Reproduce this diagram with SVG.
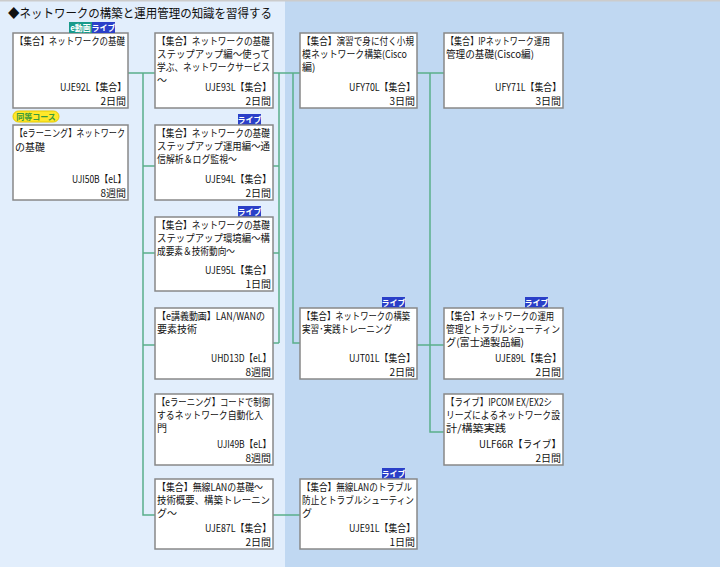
<svg xmlns="http://www.w3.org/2000/svg" width="720" height="567" viewBox="0 0 720 567">
<style>
text{font-family:"Noto Sans CJK JP","Liberation Sans",sans-serif;font-size:10px;fill:#111}
.b{fill:#fff;stroke:#888;stroke-width:1.5}
.r{text-anchor:end}
.c{fill:none;stroke:#5aaf8a;stroke-width:1.5}
.lv{fill:#2a3fc8}
.bt{fill:#fff;font-size:8px;text-anchor:middle;font-weight:bold}
</style>
<rect x="0" y="0" width="720" height="567" fill="#c0d8f2"/>
<rect x="0" y="0" width="285" height="567" fill="#e2eefc"/>
<rect x="0" y="0" width="720" height="1.5" fill="#ccc"/>
<text x="8" y="18" style="font-size:12.5px" textLength="264" lengthAdjust="spacingAndGlyphs">◆ネットワークの構築と運用管理の知識を習得する</text>
<g id="connectors" class="c">
<path d="M128 73H155M143 73V515H155M143 166H155M143 253H155M143 345H155"/>
<path d="M273 73H300M279 73V343M273 166H279M273 253H279M273 343H279M293 73V343H300"/>
<path d="M417 73H444M430 73V432H444M417 345H444"/>
<path d="M273 515H300"/>
</g>
<g id="UJE92L"><rect class="b" x="13" y="33" width="115" height="75"/>
<rect x="69" y="22" width="23" height="11" fill="#1a9a8a"/><text class="bt" x="80.5" y="30.5">e動画</text>
<rect class="lv" x="92" y="22" width="23" height="11"/><text class="bt" x="103.5" y="30.5">ライブ</text>
<text x="15" y="45" textLength="110" lengthAdjust="spacingAndGlyphs">【集合】ネットワークの基礎</text><text class="r" x="126" y="91" textLength="66" lengthAdjust="spacingAndGlyphs">UJE92L【集合】</text><text class="r" x="126" y="105">2日間</text></g>
<g id="UJI50B"><rect x="13" y="111" width="46" height="11" rx="5.5" fill="#ffe82a" stroke="#e6c800"/><text x="36" y="119.5" style="font-size:8px;fill:#3a9a3a;text-anchor:middle;font-weight:bold">同等コース</text>
<rect class="b" x="13" y="125" width="115" height="75"/>
<text x="15" y="137" textLength="110" lengthAdjust="spacingAndGlyphs">【eラーニング】ネットワーク</text><text x="15" y="151">の基礎</text><text class="r" x="126" y="183" textLength="54" lengthAdjust="spacingAndGlyphs">UJI50B【eL】</text><text class="r" x="126" y="197">8週間</text></g>
<g id="UJE93L"><rect class="b" x="155" y="33" width="118" height="75"/>
<text x="157" y="45" textLength="113" lengthAdjust="spacingAndGlyphs">【集合】ネットワークの基礎</text><text x="157" y="58" textLength="113" lengthAdjust="spacingAndGlyphs">ステップアップ編～使って</text><text x="157" y="71" textLength="113" lengthAdjust="spacingAndGlyphs">学ぶ、ネットワークサービス</text><text x="157" y="84">～</text><text class="r" x="271" y="91" textLength="66" lengthAdjust="spacingAndGlyphs">UJE93L【集合】</text><text class="r" x="271" y="105">2日間</text></g>
<g id="UJE94L"><rect class="lv" x="238" y="114" width="23" height="11"/><text class="bt" x="249.5" y="122.5">ライブ</text>
<rect class="b" x="155" y="125" width="118" height="75"/>
<text x="157" y="137" textLength="113" lengthAdjust="spacingAndGlyphs">【集合】ネットワークの基礎</text><text x="157" y="150" textLength="113" lengthAdjust="spacingAndGlyphs">ステップアップ運用編～通</text><text x="157" y="163" textLength="80" lengthAdjust="spacingAndGlyphs">信解析＆ログ監視～</text><text class="r" x="271" y="183" textLength="66" lengthAdjust="spacingAndGlyphs">UJE94L【集合】</text><text class="r" x="271" y="197">2日間</text></g>
<g id="UJE95L"><rect class="lv" x="238" y="206" width="23" height="11"/><text class="bt" x="249.5" y="214.5">ライブ</text>
<rect class="b" x="155" y="217" width="118" height="74"/>
<text x="157" y="229" textLength="113" lengthAdjust="spacingAndGlyphs">【集合】ネットワークの基礎</text><text x="157" y="242" textLength="113" lengthAdjust="spacingAndGlyphs">ステップアップ環境編～構</text><text x="157" y="255" textLength="78" lengthAdjust="spacingAndGlyphs">成要素＆技術動向～</text><text class="r" x="271" y="274" textLength="66" lengthAdjust="spacingAndGlyphs">UJE95L【集合】</text><text class="r" x="271" y="288">1日間</text></g>
<g id="UHD13D"><rect class="b" x="155" y="308" width="118" height="71"/>
<text x="157" y="320" textLength="108" lengthAdjust="spacingAndGlyphs">【e講義動画】LAN/WANの</text><text x="157" y="333">要素技術</text><text class="r" x="271" y="362" textLength="60" lengthAdjust="spacingAndGlyphs">UHD13D【eL】</text><text class="r" x="271" y="376">8週間</text></g>
<g id="UJI49B"><rect class="b" x="155" y="394" width="118" height="71"/>
<text x="157" y="406" textLength="113" lengthAdjust="spacingAndGlyphs">【eラーニング】コードで制御</text><text x="157" y="419" textLength="106" lengthAdjust="spacingAndGlyphs">するネットワーク自動化入</text><text x="157" y="432">門</text><text class="r" x="271" y="448" textLength="54" lengthAdjust="spacingAndGlyphs">UJI49B【eL】</text><text class="r" x="271" y="462">8週間</text></g>
<g id="UJE87L"><rect class="b" x="155" y="479" width="118" height="70"/>
<text x="157" y="491" textLength="106" lengthAdjust="spacingAndGlyphs">【集合】無線LANの基礎～</text><text x="157" y="504" textLength="113" lengthAdjust="spacingAndGlyphs">技術概要、構築トレーニン</text><text x="157" y="517">グ～</text><text class="r" x="271" y="532" textLength="66" lengthAdjust="spacingAndGlyphs">UJE87L【集合】</text><text class="r" x="271" y="546">2日間</text></g>
<g id="UFY70L"><rect class="b" x="300" y="33" width="117" height="75"/>
<text x="302" y="45" textLength="112" lengthAdjust="spacingAndGlyphs">【集合】演習で身に付く小規</text><text x="302" y="58" textLength="105" lengthAdjust="spacingAndGlyphs">模ネットワーク構築(Cisco</text><text x="302" y="71">編)</text><text class="r" x="415" y="91" textLength="66" lengthAdjust="spacingAndGlyphs">UFY70L【集合】</text><text class="r" x="415" y="105">3日間</text></g>
<g id="UJT01L"><rect class="lv" x="382" y="297" width="23" height="11"/><text class="bt" x="393.5" y="305.5">ライブ</text>
<rect class="b" x="300" y="308" width="117" height="71"/>
<text x="302" y="320" textLength="108" lengthAdjust="spacingAndGlyphs">【集合】ネットワークの構築</text><text x="302" y="333" textLength="90" lengthAdjust="spacingAndGlyphs">実習･実践トレーニング</text><text class="r" x="415" y="362" textLength="66" lengthAdjust="spacingAndGlyphs">UJT01L【集合】</text><text class="r" x="415" y="376">2日間</text></g>
<g id="UJE91L"><rect class="lv" x="382" y="468" width="23" height="11"/><text class="bt" x="393.5" y="476.5">ライブ</text>
<rect class="b" x="300" y="479" width="117" height="70"/>
<text x="302" y="491" textLength="110" lengthAdjust="spacingAndGlyphs">【集合】無線LANのトラブル</text><text x="302" y="504" textLength="112" lengthAdjust="spacingAndGlyphs">防止とトラブルシューティン</text><text x="302" y="517">グ</text><text class="r" x="415" y="532" textLength="66" lengthAdjust="spacingAndGlyphs">UJE91L【集合】</text><text class="r" x="415" y="546">1日間</text></g>
<g id="UFY71L"><rect class="b" x="444" y="33" width="119" height="75"/>
<text x="446" y="45" textLength="104" lengthAdjust="spacingAndGlyphs">【集合】IPネットワーク運用</text><text x="446" y="58" textLength="88" lengthAdjust="spacingAndGlyphs">管理の基礎(Cisco編)</text><text class="r" x="561" y="91" textLength="66" lengthAdjust="spacingAndGlyphs">UFY71L【集合】</text><text class="r" x="561" y="105">3日間</text></g>
<g id="UJE89L"><rect class="lv" x="525" y="297" width="23" height="11"/><text class="bt" x="536.5" y="305.5">ライブ</text>
<rect class="b" x="444" y="308" width="119" height="71"/>
<text x="446" y="320" textLength="108" lengthAdjust="spacingAndGlyphs">【集合】ネットワークの運用</text><text x="446" y="333" textLength="114" lengthAdjust="spacingAndGlyphs">管理とトラブルシューティン</text><text x="446" y="346" textLength="78" lengthAdjust="spacingAndGlyphs">グ(富士通製品編)</text><text class="r" x="561" y="362" textLength="66" lengthAdjust="spacingAndGlyphs">UJE89L【集合】</text><text class="r" x="561" y="376">2日間</text></g>
<g id="ULF66R"><rect class="b" x="444" y="394" width="119" height="71"/>
<text x="446" y="406" textLength="106" lengthAdjust="spacingAndGlyphs">【ライブ】IPCOM EX/EX2シ</text><text x="446" y="419" textLength="114" lengthAdjust="spacingAndGlyphs">リーズによるネットワーク設</text><text x="446" y="432" textLength="60" lengthAdjust="spacingAndGlyphs">計/構築実践</text><text class="r" x="561" y="448" textLength="82" lengthAdjust="spacingAndGlyphs">ULF66R【ライブ】</text><text class="r" x="561" y="462">2日間</text></g>
</svg>
